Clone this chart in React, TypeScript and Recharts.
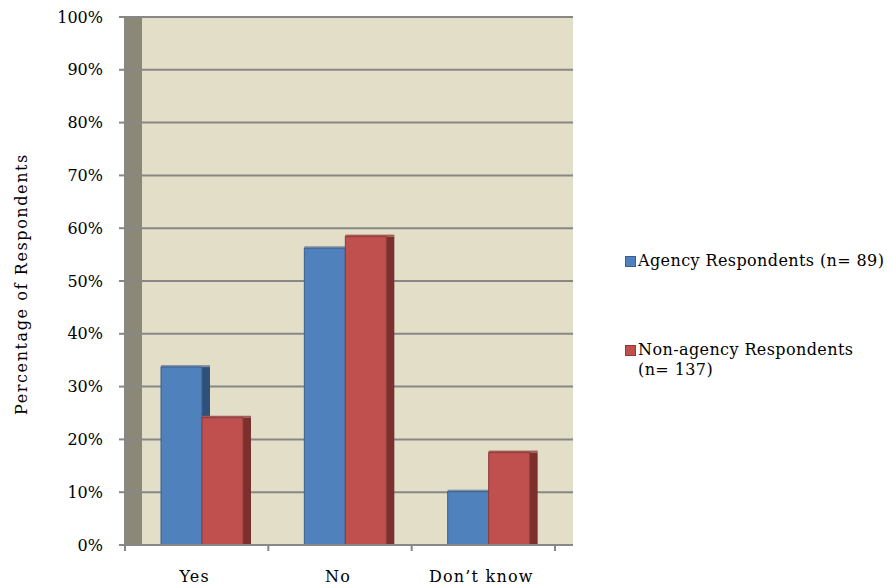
import React from 'react';
import { BarChart, Bar, XAxis, YAxis, CartesianGrid, Legend } from 'recharts';

const categories = ['Yes', 'No', 'Don\u2019t know'];
const agencyValues = [33.7, 56.2, 10.1];
const nonAgencyValues = [24.1, 58.4, 17.5];
const seriesNames = ['Agency Respondents (n=\u00a089)', 'Non-agency Respondents (n=\u00a0137)'];
const yTicks = [0, 10, 20, 30, 40, 50, 60, 70, 80, 90, 100];

const FONT = '"DejaVu Serif", serif';
const GRID = '#878787';
const WALL = '#8c8878';
const BG = '#e3dec8';
const WALL_PX = 17;
const FRONT = ['#4f81bd', '#c0504d'];
const EDGE = ['#3a5f8c', '#8e3a38'];
const SIDE = ['#2f5079', '#7b302e'];
const TOP = ['#7d8fa8', '#a05a58'];

const data = categories.map((c, i) => ({
  category: c,
  agency: agencyValues[i],
  nonAgency: nonAgencyValues[i],
}));

const make3DBar = (idx: number) => (props: any) => {
  const { x, y, width, height, fill } = props;
  if (!height || height <= 0) return <g />;
  const d = 8;
  return (
    <g>
      <rect x={x} y={y - 2} width={width + d} height={2} fill={TOP[idx]} />
      <rect x={x + width} y={y} width={d} height={height} fill={SIDE[idx]} />
      <rect x={x} y={y} width={width} height={height} fill={fill} stroke={EDGE[idx]} strokeWidth={1} />
    </g>
  );
};

const CategoryTick = (props: any) => {
  const { x, y, payload, index, visibleTicksCount } = props;
  const half = payload && typeof payload.offset === 'number' ? payload.offset : 71.7;
  const isLast = index === (visibleTicksCount ? visibleTicksCount - 1 : categories.length - 1);
  return (
    <g>
      <line x1={x - half} x2={x - half} y1={y} y2={y + 6} stroke={GRID} strokeWidth={2} />
      {isLast && <line x1={x + half} x2={x + half} y1={y} y2={y + 6} stroke={GRID} strokeWidth={2} />}
      <text x={x - 2} y={y + 37} textAnchor="middle" fontFamily={FONT} fontSize={16} letterSpacing={1.2} fill="#000">
        {payload.value}
      </text>
    </g>
  );
};

const YTitle = (props: any) => {
  const vb = props.viewBox || {};
  const cx = vb.x + 21;
  const cy = vb.y + vb.height / 2 + 3;
  return (
    <text
      x={cx}
      y={cy}
      transform={`rotate(-90 ${cx} ${cy})`}
      textAnchor="middle"
      dominantBaseline="central"
      fontFamily={FONT}
      fontSize={16}
      letterSpacing={1.6}
      fill="#000"
    >
      Percentage of Respondents
    </text>
  );
};

const renderLegend = (props: any) => {
  const payload = props.payload || [];
  return (
    <div style={{ fontFamily: FONT, fontSize: 16, color: '#000', textAlign: 'left' }}>
      {payload.map((p: any, i: number) => (
        <div key={i} style={{ display: 'flex', alignItems: 'flex-start', marginBottom: i === 0 ? 69 : 0 }}>
          <span
            style={{
              display: 'inline-block',
              width: 9,
              height: 9,
              background: FRONT[i],
              border: `1px solid ${EDGE[i]}`,
              marginTop: 5,
              marginRight: 2,
              flexShrink: 0,
            }}
          />
          <span style={{ lineHeight: '20px', width: 252, letterSpacing: 0.4 }}>{p.value}</span>
        </div>
      ))}
    </div>
  );
};

const wallGenerator = (args: any) => {
  const off = args.offset || {};
  return [off.left, off.left + WALL_PX];
};

export default function App() {
  return (
    <div style={{ position: 'absolute', left: 0, top: 0 }}>
      <BarChart
        width={891}
        height={587}
        data={data}
        margin={{ top: 17, right: 318, bottom: 2, left: 0 }}
        barGap={0}
        barSize={41}
      >
        <CartesianGrid
          horizontal={false}
          vertical
          stroke="none"
          fill={BG}
          verticalFill={[WALL, BG]}
          fillOpacity={1}
          verticalCoordinatesGenerator={wallGenerator}
        />
        <CartesianGrid horizontal vertical={false} stroke={GRID} strokeWidth={2} />
        <XAxis
          dataKey="category"
          padding={{ left: 0, right: 18 }}
          height={40}
          interval={0}
          tickSize={0}
          tickMargin={0}
          tickLine={false}
          axisLine={{ stroke: GRID, strokeWidth: 2 }}
          tick={<CategoryTick />}
        />
        <XAxis xAxisId="cat" dataKey="category" hide padding={{ left: 5, right: 13 }} />
        <YAxis
          width={125}
          domain={[0, 100]}
          ticks={yTicks}
          interval={0}
          tickFormatter={(v: number) => `${v}%`}
          tickSize={6}
          tickMargin={16}
          tickLine={{ stroke: GRID, strokeWidth: 2 }}
          axisLine={{ stroke: GRID, strokeWidth: 2 }}
          tick={{ fontFamily: FONT, fontSize: 16, fill: '#000' }}
          label={<YTitle />}
        />
        <Legend
          layout="vertical"
          align="center"
          verticalAlign="middle"
          content={renderLegend}
          wrapperStyle={{ left: 625, top: 251, width: 266 }}
        />
        <Bar
          xAxisId="cat"
          dataKey="agency"
          name={seriesNames[0]}
          fill={FRONT[0]}
          shape={make3DBar(0)}
          isAnimationActive={false}
        />
        <Bar
          xAxisId="cat"
          dataKey="nonAgency"
          name={seriesNames[1]}
          fill={FRONT[1]}
          shape={make3DBar(1)}
          isAnimationActive={false}
        />
      </BarChart>
    </div>
  );
}
